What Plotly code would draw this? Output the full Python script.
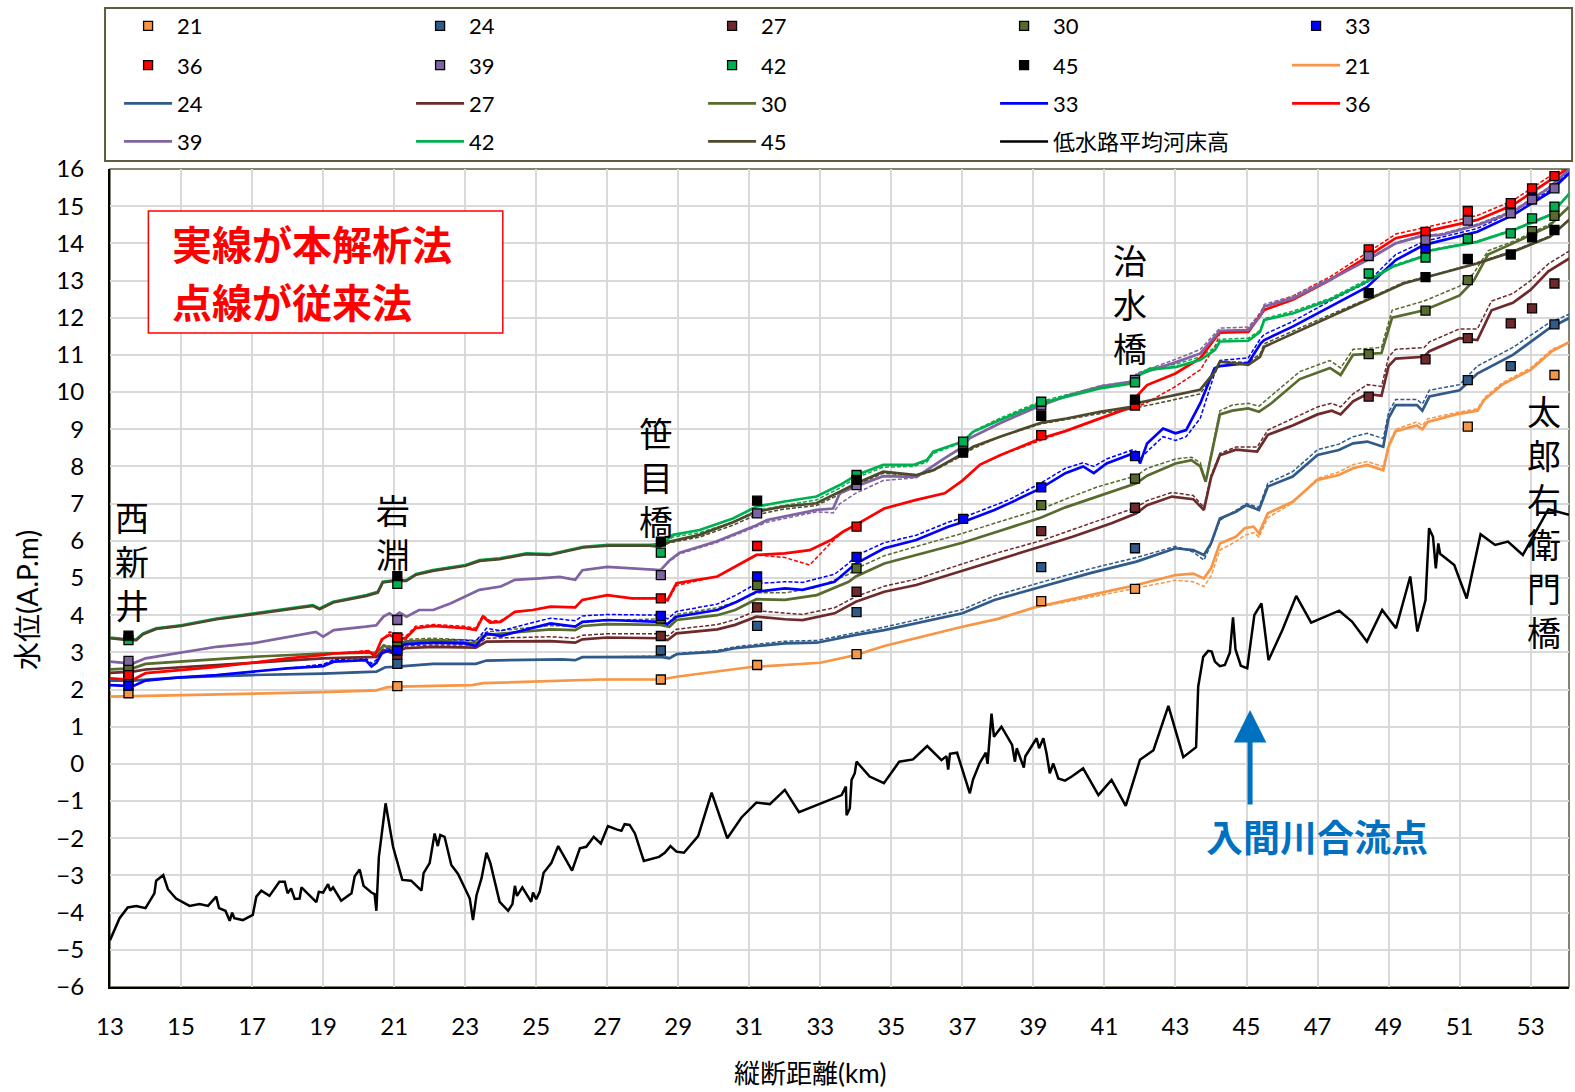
import plotly.graph_objects as go

# ---------------- water-level profiles (distance km / level A.P.m) ----------------
KM_21 = [13, 15, 17, 19, 20.5, 20.8, 21.1, 23.2, 23.5, 25, 26.8, 28.5, 29, 31, 33, 34, 34.8, 37, 38, 39,
         39.5, 40.6, 41.9, 43, 43.5, 43.8, 44, 44.25, 44.7, 44.95, 45.2, 45.35, 45.6, 46.3, 47, 47.6, 48,
         48.4, 48.85, 49, 49.2, 49.8, 49.95, 50.1, 50.9, 51.5, 51.7, 52.2, 53, 53.6, 54.1]
SOLID_21 = [1.81, 1.85, 1.88, 1.93, 1.98, 2.06, 2.08, 2.12, 2.17, 2.21, 2.27, 2.27, 2.35, 2.6, 2.72, 2.93,
            3.17, 3.69, 3.9, 4.2, 4.3, 4.54, 4.81, 5.08, 5.12, 4.99, 5.26, 5.93, 6.11, 6.34, 6.38, 6.2, 6.74,
            7.05, 7.64, 7.77, 7.95, 8.04, 7.9, 8.53, 8.95, 9.1, 9.0, 9.2, 9.4, 9.5, 9.8, 10.2, 10.6, 11.1, 11.35]
DASHED_21 = [1.81, 1.85, 1.88, 1.93, 1.98, 2.06, 2.08, 2.12, 2.17, 2.21, 2.27, 2.27, 2.35, 2.6, 2.72, 2.93,
             3.17, 3.69, 3.9, 4.2, 4.28, 4.48, 4.74, 4.94, 4.9, 4.77, 5.05, 5.75, 5.98, 6.15, 6.22, 6.1, 6.62,
             7.02, 7.68, 7.85, 8.05, 8.13, 8.0, 8.6, 9.0, 9.2, 9.1, 9.28, 9.45, 9.55, 9.85, 10.25, 10.65, 11.15, 11.35]

KM_24 = [13, 13.64, 15, 17, 19, 20.5, 20.75, 21, 22.1, 23.3, 23.6, 25.7, 26.1, 26.3, 28.5, 28.75, 28.95,
         30.1, 30.6, 31.2, 32, 32.9, 34, 34.8, 37, 37.9, 39.2, 40.6, 41.9, 43, 43.5, 43.8, 44, 44.25, 44.7,
         45, 45.35, 45.6, 46.3, 47, 47.6, 48, 48.4, 48.85, 49, 49.2, 49.8, 49.95, 50.15, 51, 51.5, 52.5, 53.5, 54.1]
SOLID_24 = [2.24, 2.24, 2.33, 2.39, 2.43, 2.48, 2.6, 2.61, 2.69, 2.69, 2.78, 2.81, 2.79, 2.87, 2.88, 2.84,
            2.95, 3.02, 3.11, 3.17, 3.24, 3.26, 3.47, 3.6, 4.05, 4.41, 4.75, 5.13, 5.44, 5.8, 5.75, 5.62, 5.93,
            6.6, 6.78, 6.96, 6.83, 7.46, 7.73, 8.31, 8.44, 8.62, 8.67, 8.53, 9.3, 9.65, 9.65, 9.5, 9.88, 10.05,
            10.5, 11.0, 11.7, 12.0]
DASHED_24 = [2.24, 2.24, 2.33, 2.39, 2.43, 2.48, 2.6, 2.61, 2.69, 2.69, 2.78, 2.81, 2.79, 2.87, 2.9, 2.86,
             2.97, 3.05, 3.15, 3.22, 3.3, 3.32, 3.52, 3.68, 4.15, 4.52, 4.88, 5.25, 5.55, 5.85, 5.7, 5.48, 5.9,
             6.55, 6.82, 7.0, 6.9, 7.55, 7.86, 8.45, 8.6, 8.8, 8.89, 8.75, 9.45, 9.8, 9.8, 9.68, 10.05, 10.2,
             10.7, 11.2, 11.85, 12.1]

KM_27 = [13, 13.64, 14, 15, 17, 19, 20.5, 20.7, 21, 21.3, 22.1, 23.3, 23.6, 25.4, 26.1, 26.3, 27, 28.5,
         28.7, 28.95, 30.1, 30.6, 31.2, 32, 32.5, 33.4, 34, 34.8, 35.7, 37, 38, 39.2, 40.1, 41.2, 41.9, 42.2,
         42.9, 43.5, 43.8, 44.0, 44.25, 44.7, 45.3, 45.6, 46.3, 47, 47.4, 47.65, 48, 48.4, 48.8, 49, 49.2,
         50, 50.15, 51, 51.5, 51.9, 52.5, 53, 53.5, 54.1]
SOLID_27 = [2.45, 2.48, 2.54, 2.6, 2.72, 2.84, 2.88, 3.06, 2.97, 3.11, 3.15, 3.13, 3.29, 3.3, 3.26, 3.35,
            3.4, 3.38, 3.33, 3.51, 3.62, 3.74, 3.96, 3.89, 3.87, 4.05, 4.36, 4.63, 4.81, 5.2, 5.5, 5.84, 6.11,
            6.47, 6.74, 6.96, 7.19, 7.12, 6.83, 7.7, 8.3, 8.45, 8.4, 8.85, 9.1, 9.4, 9.5, 9.4, 9.75, 9.95,
            9.9, 10.7, 10.9, 10.95, 11.1, 11.45, 11.4, 12.2, 12.4, 12.75, 13.25, 13.6]
DASHED_27 = [2.45, 2.48, 2.54, 2.6, 2.72, 2.84, 2.88, 3.08, 3.02, 3.17, 3.2, 3.2, 3.38, 3.42, 3.38, 3.46,
             3.5, 3.5, 3.44, 3.62, 3.75, 3.88, 4.12, 4.05, 4.02, 4.2, 4.5, 4.78, 4.97, 5.38, 5.68, 6.0, 6.3,
             6.65, 6.9, 7.08, 7.3, 7.22, 6.9, 7.75, 8.35, 8.52, 8.52, 8.98, 9.3, 9.6, 9.7, 9.6, 9.95, 10.2,
             10.15, 10.95, 11.15, 11.2, 11.35, 11.7, 11.7, 12.45, 12.65, 13.0, 13.45, 13.8]

KM_30 = [13, 13.64, 14, 15, 17, 19, 20.5, 20.7, 21, 21.3, 22.1, 23.3, 23.6, 25.4, 26.1, 26.3, 27, 28.5,
         28.75, 28.95, 30.1, 30.6, 31.2, 32, 32.9, 33.8, 34, 34.8, 35.7, 37, 38, 39.2, 39.9, 40.8, 41.9,
         42.2, 43, 43.45, 43.7, 43.85, 44.05, 44.25, 44.6, 45.05, 45.35, 45.7, 46.5, 47.35, 47.65, 48, 48.8,
         49.1, 50, 51, 51.4, 51.8, 52.5, 53.5, 54.1]
SOLID_30 = [2.54, 2.57, 2.69, 2.75, 2.88, 2.97, 2.99, 3.17, 3.11, 3.29, 3.33, 3.24, 3.47, 3.62, 3.6, 3.71,
            3.76, 3.74, 3.69, 3.87, 4.0, 4.14, 4.43, 4.41, 4.54, 4.9, 5.04, 5.39, 5.62, 5.95, 6.25, 6.62, 6.9,
            7.2, 7.55, 7.75, 8.08, 8.17, 8.0, 7.59, 8.5, 9.4, 9.5, 9.56, 9.47, 9.7, 10.35, 10.65, 10.46, 11.0,
            11.05, 12.0, 12.2, 12.6, 13.0, 13.7, 14.0, 14.45, 15.0]
DASHED_30 = [2.54, 2.57, 2.69, 2.75, 2.88, 2.97, 3.0, 3.2, 3.15, 3.35, 3.38, 3.32, 3.55, 3.72, 3.7, 3.8,
             3.86, 3.9, 3.82, 4.02, 4.2, 4.35, 4.6, 4.6, 4.75, 5.1, 5.25, 5.6, 5.85, 6.2, 6.5, 6.85, 7.12,
             7.45, 7.75, 7.95, 8.2, 8.25, 8.1, 7.6, 8.55, 9.5, 9.65, 9.7, 9.62, 9.9, 10.55, 10.85, 10.65,
             11.15, 11.2, 12.2, 12.45, 12.85, 13.2, 13.8, 14.05, 14.5, 15.0]

KM_33 = [13, 13.64, 14, 15, 16, 17, 18, 19, 19.3, 20.2, 20.36, 20.5, 20.65, 20.87, 21, 21.3, 22.1, 23,
         23.3, 23.6, 24, 25.4, 26.1, 26.3, 27, 28.5, 28.7, 28.95, 30.1, 30.65, 31.2, 32, 32.5, 33.4, 33.8,
         34, 34.8, 35.7, 36.6, 37, 37.9, 38.3, 39.2, 39.9, 40.4, 40.7, 41.06, 41.8, 41.95, 42.0, 42.2,
         42.65, 43.0, 43.3, 43.7, 44.1, 44.25, 45.05, 45.4, 45.5, 46.3, 47.35, 48.4, 49.2, 50, 51.5, 52.5,
         53.5, 54.1]
SOLID_33 = [2.12, 2.09, 2.24, 2.33, 2.39, 2.48, 2.57, 2.63, 2.75, 2.79, 2.62, 2.72, 2.97, 3.06, 2.97, 3.22,
            3.26, 3.24, 3.17, 3.51, 3.44, 3.78, 3.69, 3.82, 3.87, 3.82, 3.76, 3.96, 4.14, 4.36, 4.63, 4.72,
            4.68, 4.9, 5.21, 5.39, 5.8, 6.02, 6.38, 6.5, 6.83, 7.0, 7.41, 7.82, 8.0, 7.82, 8.08, 8.35, 8.26,
            8.08, 8.62, 9.02, 8.89, 8.98, 9.7, 10.64, 10.7, 10.78, 11.31, 11.4, 11.76, 12.3, 12.83, 13.55,
            13.96, 14.31, 14.76, 15.35, 15.9]
DASHED_33 = [2.12, 2.09, 2.24, 2.33, 2.39, 2.48, 2.57, 2.68, 2.8, 2.85, 2.7, 2.8, 3.05, 3.12, 3.05, 3.3,
             3.33, 3.33, 3.3, 3.65, 3.58, 3.92, 3.85, 3.98, 4.02, 4.0, 3.9, 4.1, 4.3, 4.55, 4.85, 4.9, 4.88,
             5.1, 5.4, 5.6, 5.95, 6.15, 6.5, 6.62, 6.95, 7.1, 7.55, 7.95, 8.1, 8.0, 8.2, 8.45, 8.38, 8.2, 8.4,
             8.8, 8.7, 8.8, 9.3, 10.5, 10.85, 10.92, 11.45, 11.55, 11.9, 12.45, 12.95, 13.7, 14.05, 14.4,
             14.85, 15.4, 15.95]

KM_36 = [13, 13.64, 14, 15, 16, 17, 18, 19, 19.3, 20.3, 20.45, 20.65, 20.87, 21.1, 21.35, 21.6, 22.1, 23,
         23.3, 23.5, 23.7, 24, 24.4, 24.9, 25.4, 26.1, 26.3, 27, 27.7, 28.5, 28.7, 28.95, 30.1, 31.2, 32,
         32.7, 33.3, 33.65, 34, 34.8, 35.7, 36.5, 37, 37.5, 38.06, 39.2, 39.9, 40.9, 41.8, 41.9, 42.2, 43.0,
         43.7, 44.15, 44.25, 45.05, 45.3, 45.5, 46.3, 47.35, 48.4, 49.2, 50, 51.5, 52.5, 53.5, 54.1]
SOLID_36 = [2.3, 2.26, 2.44, 2.52, 2.61, 2.72, 2.84, 2.93, 2.97, 3.02, 2.9, 3.35, 3.47, 3.35, 3.4, 3.65,
            3.71, 3.65, 3.6, 3.96, 3.8, 3.82, 4.09, 4.14, 4.23, 4.21, 4.41, 4.54, 4.45, 4.45, 4.41, 4.86,
            5.04, 5.62, 5.66, 5.75, 6.02, 6.25, 6.43, 6.87, 7.1, 7.28, 7.62, 8.05, 8.3, 8.75, 8.95, 9.3, 9.61,
            9.88, 10.19, 10.5, 10.91, 11.49, 11.6, 11.62, 11.94, 12.21, 12.48, 13.01, 13.64, 14.14, 14.31,
            14.63, 15.03, 15.66, 16.05]
DASHED_36 = [2.3, 2.26, 2.44, 2.52, 2.61, 2.72, 2.84, 2.93, 2.97, 3.05, 2.95, 3.3, 3.55, 3.5, 3.45, 3.7,
             3.75, 3.7, 3.65, 4.0, 3.85, 3.85, 4.09, 4.14, 4.23, 4.21, 4.41, 4.54, 4.45, 4.45, 4.38, 4.8,
             5.04, 5.62, 5.55, 5.35, 5.95, 6.25, 6.43, 6.87, 7.1, 7.28, 7.62, 8.05, 8.3, 8.7, 8.95, 9.3, 9.6,
             9.6, 9.72, 10.15, 10.6, 11.3, 11.6, 11.7, 12.02, 12.3, 12.58, 13.1, 13.75, 14.25, 14.42, 14.75,
             15.15, 15.78, 16.1]

KM_39 = [13, 13.64, 14, 15, 16, 17, 18, 18.8, 19, 19.3, 20.2, 20.5, 20.7, 20.87, 21, 21.15, 21.35, 21.7,
         22.1, 22.6, 23, 23.4, 24, 24.4, 25.1, 25.66, 26.1, 26.3, 27, 27.6, 28.5, 28.76, 29.04, 30.07, 31.2,
         31.5, 32.9, 33.36, 33.55, 34.0, 34.77, 35.71, 36.46, 37.02, 37.2, 38.06, 39.1, 39.9, 40.9, 41.81,
         41.9, 43.0, 43.7, 44.25, 45.05, 45.38, 45.5, 46.3, 47.35, 48.4, 49.2, 49.95, 50.45, 51.5, 52.5,
         53.5, 54.1]
SOLID_39 = [2.75, 2.7, 2.84, 2.99, 3.15, 3.24, 3.42, 3.55, 3.42, 3.6, 3.69, 3.73, 3.96, 4.05, 3.96, 4.07,
            3.96, 4.14, 4.14, 4.32, 4.5, 4.68, 4.77, 4.95, 4.99, 5.03, 4.95, 5.21, 5.3, 5.26, 5.21, 5.48,
            5.68, 5.98, 6.42, 6.56, 6.83, 6.87, 7.28, 7.46, 7.74, 7.72, 8.2, 8.53, 8.76, 9.16, 9.6, 9.88,
            10.15, 10.28, 10.46, 10.8, 11.04, 11.65, 11.67, 12.03, 12.3, 12.52, 13.02, 13.55, 14.0, 14.2,
            14.22, 14.49, 14.85, 15.48, 16.0]
DASHED_39 = [2.75, 2.7, 2.84, 2.99, 3.15, 3.24, 3.42, 3.55, 3.42, 3.6, 3.69, 3.73, 3.96, 4.05, 3.96, 4.07,
             3.96, 4.14, 4.14, 4.32, 4.5, 4.68, 4.77, 4.95, 4.99, 5.03, 4.95, 5.21, 5.3, 5.26, 5.21, 5.45,
             5.65, 5.95, 6.38, 6.5, 6.78, 6.75, 7.0, 7.28, 7.62, 7.7, 8.2, 8.53, 8.76, 9.18, 9.62, 9.9,
             10.18, 10.3, 10.5, 10.88, 11.15, 11.72, 11.75, 12.1, 12.36, 12.58, 13.06, 13.58, 14.02, 14.22,
             14.25, 14.52, 14.88, 15.5, 16.0]

KM_42 = [13, 13.5, 13.74, 13.93, 14.3, 15, 16, 17, 17.96, 18.71, 18.9, 19.28, 20.22, 20.54, 20.68, 21.0,
         21.34, 21.62, 22.09, 23.01, 23.41, 23.97, 24.72, 25.38, 26.32, 27.02, 28.2, 28.48, 28.67, 28.85,
         29.6, 30.54, 31.2, 31.95, 32.89, 33.55, 34.02, 34.77, 35.62, 36.0, 36.18, 37.02, 37.3, 38.06,
         39.2, 39.93, 40.87, 41.81, 41.9, 42.28, 43.03, 43.69, 44.11, 44.25, 45.05, 45.38, 45.5, 46.32,
         47.35, 48.39, 49.11, 49.94, 50.04, 51.49, 52.52, 53.55, 54.1]
SOLID_42 = [3.4, 3.35, 3.35, 3.51, 3.65, 3.73, 3.91, 4.05, 4.18, 4.27, 4.18, 4.36, 4.54, 4.63, 4.9, 4.94,
            4.94, 5.11, 5.21, 5.35, 5.48, 5.53, 5.66, 5.64, 5.84, 5.89, 5.89, 5.91, 6.02, 6.16, 6.29, 6.6,
            6.92, 7.05, 7.19, 7.5, 7.77, 8.04, 8.04, 8.17, 8.4, 8.67, 8.93, 9.25, 9.7, 9.88, 10.1, 10.24,
            10.42, 10.6, 10.68, 10.86, 11.13, 11.36, 11.38, 11.62, 11.94, 12.12, 12.48, 12.97, 13.37, 13.64,
            13.78, 14.04, 14.36, 14.76, 15.35]
DASHED_42 = [3.4, 3.35, 3.35, 3.51, 3.65, 3.73, 3.91, 4.05, 4.18, 4.27, 4.18, 4.36, 4.54, 4.63, 4.9, 4.94,
             4.94, 5.11, 5.21, 5.35, 5.48, 5.53, 5.66, 5.64, 5.84, 5.89, 5.89, 5.91, 6.0, 6.1, 6.22, 6.5,
             6.82, 6.95, 7.1, 7.42, 7.7, 7.98, 8.0, 8.12, 8.35, 8.65, 8.95, 9.3, 9.75, 9.93, 10.15, 10.3,
             10.45, 10.65, 10.75, 10.95, 11.2, 11.42, 11.45, 11.66, 11.98, 12.18, 12.52, 13.02, 13.4, 13.66,
             13.8, 14.06, 14.38, 14.78, 15.35]

KM_45 = [13, 13.5, 13.74, 13.93, 14.3, 15, 16, 17, 17.96, 18.71, 18.9, 19.28, 20.22, 20.54, 20.68, 21.0,
         21.34, 21.62, 22.09, 23.01, 23.41, 23.97, 24.72, 25.38, 26.32, 27.02, 28.2, 28.48, 28.76, 29.6,
         30.54, 31.2, 31.95, 32.89, 33.55, 34.02, 34.77, 35.71, 36.18, 37.02, 37.3, 38.06, 39.23, 39.93,
         40.87, 41.81, 41.9, 42.75, 43.69, 44.11, 44.25, 45.05, 45.38, 45.5, 46.32, 47.35, 48.39, 49.42,
         50.45, 51.49, 52.52, 53.55, 54.1]
SOLID_45 = [3.38, 3.33, 3.33, 3.49, 3.63, 3.71, 3.89, 4.03, 4.16, 4.25, 4.16, 4.34, 4.52, 4.61, 4.88, 4.92,
            4.92, 5.09, 5.19, 5.33, 5.46, 5.51, 5.64, 5.62, 5.82, 5.87, 5.87, 5.84, 5.98, 6.16, 6.5, 6.78,
            6.92, 7.01, 7.32, 7.55, 7.86, 7.77, 7.9, 8.35, 8.53, 8.8, 9.18, 9.29, 9.47, 9.61, 9.7, 9.88,
            10.06, 10.55, 10.82, 10.73, 10.95, 11.22, 11.58, 12.03, 12.48, 12.92, 13.19, 13.46, 13.78,
            14.18, 14.65]
DASHED_45 = [3.38, 3.33, 3.33, 3.49, 3.63, 3.71, 3.89, 4.03, 4.16, 4.25, 4.16, 4.34, 4.52, 4.61, 4.88, 4.92,
             4.92, 5.09, 5.19, 5.33, 5.46, 5.51, 5.64, 5.62, 5.82, 5.87, 5.87, 5.84, 5.95, 6.1, 6.42, 6.7,
             6.85, 6.95, 7.25, 7.5, 7.82, 7.75, 7.88, 8.3, 8.48, 8.8, 9.15, 9.27, 9.42, 9.55, 9.58, 9.75,
             9.95, 10.5, 10.82, 10.8, 11.02, 11.3, 11.65, 12.08, 12.5, 12.95, 13.2, 13.48, 13.8, 14.2, 14.65]

# ---------------- observed levels at gauging stations ----------------
OBS_KM_21 = [13.52, 21.09, 28.51, 31.22, 34.02, 39.22, 41.86, 51.23, 53.67]
OBS_21 = [1.9, 2.09, 2.27, 2.66, 2.95, 4.38, 4.71, 9.07, 10.46]
OBS_KM_24 = [13.52, 21.09, 28.51, 31.22, 34.02, 39.22, 41.86, 51.23, 52.44, 53.67]
OBS_24 = [2.26, 2.69, 3.05, 3.71, 4.08, 5.29, 5.8, 10.32, 10.7, 11.82]
OBS_KM_27 = [13.52, 21.09, 28.51, 31.22, 34.02, 39.22, 41.86, 48.44, 50.04, 51.23, 52.44, 53.04, 53.67]
OBS_27 = [2.48, 2.93, 3.44, 4.21, 4.63, 6.26, 6.89, 9.88, 10.88, 11.45, 11.85, 12.25, 12.92]
OBS_KM_30 = [13.52, 21.09, 28.51, 31.22, 34.02, 39.22, 41.86, 48.44, 50.04, 51.23, 53.04, 53.67]
OBS_30 = [2.57, 3.23, 3.91, 4.81, 5.26, 6.96, 7.67, 11.02, 12.19, 13.01, 14.33, 14.74]
OBS_KM_33 = [13.52, 21.09, 28.51, 31.22, 34.02, 37.02, 39.22, 41.86, 50.04, 52.44, 53.04]
OBS_33 = [2.1, 3.05, 3.98, 5.04, 5.57, 6.59, 7.44, 8.28, 13.87, 14.95, 15.3]
OBS_KM_36 = [13.52, 21.09, 28.51, 31.22, 34.02, 39.22, 41.86, 48.44, 50.04, 51.23, 52.44, 53.04, 53.67]
OBS_36 = [2.39, 3.4, 4.45, 5.86, 6.38, 8.84, 9.64, 13.84, 14.31, 14.87, 15.08, 15.48, 15.81]
OBS_KM_39 = [13.52, 21.09, 28.51, 31.22, 34.02, 37.02, 39.22, 41.86, 48.44, 50.04, 51.23, 52.44, 53.04, 53.67]
OBS_39 = [2.77, 3.87, 5.08, 6.74, 7.5, 8.53, 9.64, 10.33, 13.66, 14.09, 14.61, 14.81, 15.18, 15.48]
OBS_KM_42 = [13.52, 21.09, 28.51, 34.02, 37.02, 39.22, 41.86, 48.44, 50.04, 51.23, 52.44, 53.04, 53.67]
OBS_42 = [3.33, 4.84, 5.68, 7.77, 8.67, 9.74, 10.26, 13.19, 13.62, 14.13, 14.27, 14.67, 14.99]
OBS_KM_45 = [13.52, 21.09, 28.51, 31.22, 34.02, 37.02, 39.22, 41.86, 48.44, 50.04, 51.23, 52.44, 53.04, 53.67]
OBS_45 = [3.45, 5.05, 5.98, 7.08, 7.64, 8.37, 9.36, 9.8, 12.66, 13.09, 13.58, 13.7, 14.16, 14.36]

# ---------------- mean low-water channel bed ----------------
BED_KM = [13.0, 13.27, 13.5, 13.74, 14.0, 14.25, 14.3, 14.5, 14.63, 14.86, 15.24, 15.52, 15.76, 15.99,
          16.07, 16.25, 16.37, 16.44, 16.5, 16.74, 17.02, 17.12, 17.26, 17.49, 17.77, 17.92, 18.0, 18.1,
          18.2, 18.34, 18.39, 18.81, 18.88, 19.0, 19.14, 19.2, 19.28, 19.51, 19.8, 19.89, 20.03, 20.14,
          20.36, 20.45, 20.5, 20.57, 20.76, 20.97, 21.23, 21.48, 21.77, 21.83, 22.0, 22.14, 22.23, 22.3,
          22.42, 22.61, 22.8, 23.13, 23.22, 23.32, 23.46, 23.6, 23.71, 23.83, 23.97, 24.21, 24.33, 24.4,
          24.46, 24.61, 24.86, 24.91, 25.0, 25.1, 25.21, 25.43, 25.62, 26.01, 26.23, 26.41, 26.62, 26.82,
          27.02, 27.26, 27.4, 27.49, 27.63, 27.78, 28.03, 28.46, 28.62, 28.78, 28.95, 29.16, 29.56, 29.94,
          30.38, 30.78, 31.2, 31.58, 32.0, 32.4, 33.03, 33.6, 33.72, 33.74, 33.83, 33.88, 33.97, 34.02,
          34.39, 34.79, 35.22, 35.61, 36.01, 36.41, 36.55, 36.6, 36.65, 36.85, 37.21, 37.3, 37.49, 37.66,
          37.71, 37.77, 37.82, 37.89, 38.1, 38.4, 38.48, 38.53, 38.73, 38.77, 39.09, 39.16, 39.28, 39.37,
          39.46, 39.56, 39.7, 39.89, 40.08, 40.4, 40.83, 41.2, 41.6, 42.0, 42.38, 42.8, 43.22, 43.58,
          43.64, 43.78, 43.92, 44.02, 44.11, 44.25, 44.39, 44.53, 44.62, 44.69, 44.84, 45.02, 45.22, 45.42,
          45.62, 46.01, 46.4, 46.82, 47.61, 47.97, 48.39, 48.82, 49.21, 49.61, 49.81, 50.04, 50.14, 50.25,
          50.33, 50.4, 50.45, 50.85, 51.2, 51.59, 52.0, 52.36, 52.78, 53.5, 54.08]
BED_LEVEL = [-4.74, -4.15, -3.86, -3.82, -3.88, -3.48, -3.14, -2.99, -3.37, -3.62, -3.82, -3.77, -3.82,
             -3.57, -3.88, -3.95, -4.22, -4.0, -4.15, -4.2, -4.06, -3.57, -3.41, -3.55, -3.17, -3.17, -3.48,
             -3.35, -3.63, -3.62, -3.32, -3.72, -3.44, -3.46, -3.23, -3.41, -3.32, -3.68, -3.48, -3.02,
             -2.84, -3.28, -3.46, -3.5, -3.95, -2.5, -1.06, -2.23, -3.12, -3.14, -3.41, -2.94, -2.67, -1.87,
             -2.21, -1.91, -1.96, -2.72, -2.96, -3.62, -4.2, -3.53, -3.08, -2.39, -2.67, -3.17, -3.71, -3.95,
             -3.77, -3.28, -3.55, -3.32, -3.71, -3.46, -3.64, -3.44, -2.93, -2.66, -2.21, -2.87, -2.27,
             -2.23, -1.96, -2.14, -1.67, -1.76, -1.8, -1.62, -1.64, -1.87, -2.61, -2.5, -2.39, -2.21, -2.36,
             -2.39, -1.94, -0.77, -2.0, -1.44, -1.04, -1.08, -0.7, -1.3, -1.06, -0.84, -0.61, -1.38, -1.2,
             -0.43, -0.25, 0.06, -0.34, -0.52, 0.06, 0.12, 0.48, 0.1, 0.21, -0.15, 0.27, 0.3, -0.79, -0.42,
             0.03, 0.3, 0.0, 0.82, 1.35, 0.73, 1.0, 0.51, 0.06, 0.42, -0.1, 0.2, 0.69, 0.42, 0.69, 0.28,
             -0.25, 0.01, -0.39, -0.45, -0.34, -0.12, -0.84, -0.43, -1.13, 0.11, 0.37, 1.56, 0.18, 0.45,
             2.08, 2.88, 3.04, 3.02, 2.75, 2.63, 2.66, 2.99, 3.94, 3.08, 2.64, 2.57, 4.0, 4.32, 2.79, 3.6,
             4.52, 3.8, 4.12, 3.83, 3.29, 4.14, 3.65, 5.04, 3.56, 4.41, 6.34, 6.11, 5.26, 5.93, 5.65, 5.35,
             4.45, 6.18, 5.89, 5.98, 5.62, 6.85, 6.7]

X_TICKS = list(range(13, 54, 2))
Y_TICKS = list(range(-6, 17))

# name, line colour, marker fill, profile, observations, legend row for the line entry
SERIES = [
    ("21", "#F79646", "#F79646", KM_21, SOLID_21, DASHED_21, OBS_KM_21, OBS_21, "legend2"),
    ("24", "#2F5A8A", "#2F5A8A", KM_24, SOLID_24, DASHED_24, OBS_KM_24, OBS_24, "legend3"),
    ("27", "#6E2A2A", "#6E2A2A", KM_27, SOLID_27, DASHED_27, OBS_KM_27, OBS_27, "legend3"),
    ("30", "#566B2C", "#566B2C", KM_30, SOLID_30, DASHED_30, OBS_KM_30, OBS_30, "legend3"),
    ("33", "#0000FF", "#0000FF", KM_33, SOLID_33, DASHED_33, OBS_KM_33, OBS_33, "legend3"),
    ("36", "#FF0000", "#FF0000", KM_36, SOLID_36, DASHED_36, OBS_KM_36, OBS_36, "legend3"),
    ("39", "#8064A2", "#8064A2", KM_39, SOLID_39, DASHED_39, OBS_KM_39, OBS_39, "legend4"),
    ("42", "#00B050", "#00B050", KM_42, SOLID_42, DASHED_42, OBS_KM_42, OBS_42, "legend4"),
    ("45", "#4D4A2C", "#000000", KM_45, SOLID_45, DASHED_45, OBS_KM_45, OBS_45, "legend4"),
]
MARKER_ROW = ["legend", "legend", "legend", "legend", "legend", "legend2", "legend2", "legend2", "legend2"]

fig = go.Figure()

# conventional method (dotted) underneath
for name, col, mcol, km, solid, dashed, okm, oval, row in SERIES:
    fig.add_trace(go.Scatter(x=km, y=dashed, mode="lines", showlegend=False, hoverinfo="skip",
                             line=dict(color=col, width=1.5, dash="4px,2px")))

# present analysis (solid)
for i, (name, col, mcol, km, solid, dashed, okm, oval, row) in enumerate(SERIES):
    fig.add_trace(go.Scatter(x=km, y=solid, mode="lines", name=name, legend=row, legendrank=100 + i,
                             line=dict(color=col, width=2.7)))

fig.add_trace(go.Scatter(x=BED_KM, y=BED_LEVEL, mode="lines", name="低水路平均河床高", legend="legend4",
                         legendrank=200, line=dict(color="black", width=2.5)))

# observed marks on top
for i, (name, col, mcol, km, solid, dashed, okm, oval, row) in enumerate(SERIES):
    fig.add_trace(go.Scatter(x=okm, y=oval, mode="markers", name=name, legend=MARKER_ROW[i], legendrank=i,
                             marker=dict(symbol="square", size=9, color=mcol,
                                         line=dict(color="black", width=1.3))))

FONT = "Lato, 'Noto Sans CJK JP', sans-serif"
JP = "'Noto Sans CJK JP', sans-serif"


def row_legend(y):
    # one legend per row, placed against the whole figure so it does not push the margins
    return dict(orientation="h", xref="container", yref="container", x=0.0756, xanchor="left",
                y=y, yanchor="middle", entrywidth=229, entrywidthmode="pixels", itemwidth=48,
                bgcolor="rgba(0,0,0,0)", borderwidth=0, traceorder="normal", tracegroupgap=0,
                font=dict(family=FONT, size=22, color="black"))


annotations = [
    dict(x=13.63, y=5.46, text="西<br>新<br>井"),
    dict(x=20.96, y=6.26, text="岩<br>淵"),
    dict(x=28.37, y=7.74, text="笹<br>目<br>橋"),
    dict(x=41.72, y=12.37, text="治<br>水<br>橋"),
    dict(x=53.38, y=6.53, text="太<br>郎<br>右<br>衛<br>門<br>橋"),
]
for a in annotations:
    a.update(xref="x", yref="y", showarrow=False, xanchor="center", yanchor="middle",
             font=dict(family=JP, size=34, color="black"))

annotations += [
    # note on line styles, two stacked lines
    dict(x=14.68, y=14.02, xref="x", yref="y", text="<b>実線が本解析法</b>",
         showarrow=False, xanchor="left", yanchor="middle",
         font=dict(family=JP, size=40, color="#FF0000")),
    dict(x=14.68, y=12.44, xref="x", yref="y", text="<b>点線が従来法</b>",
         showarrow=False, xanchor="left", yanchor="middle",
         font=dict(family=JP, size=40, color="#FF0000")),
    dict(x=46.99, y=-1.94, xref="x", yref="y", text="<b>入間川合流点</b>", showarrow=False,
         xanchor="center", yanchor="middle", font=dict(family=JP, size=37, color="#0070C0")),
    dict(x=45.1, y=1.45, ax=45.1, ay=-1.13, xref="x", yref="y", axref="x", ayref="y", text="",
         showarrow=True, arrowhead=2, arrowsize=1.3, arrowwidth=5, arrowcolor="#0070C0"),
    # axis titles
    dict(x=-0.057, y=0.473, xref="paper", yref="paper", text="水位(A.P.m)", textangle=-90,
         showarrow=False, xanchor="center", yanchor="middle", font=dict(family=FONT, size=28)),
    dict(x=0.48, y=-0.1051, xref="paper", yref="paper", text="縦断距離(km)",
         showarrow=False, xanchor="center", yanchor="middle", font=dict(family=FONT, size=26)),
]

shapes = [
    # legend frame
    dict(type="rect", xref="paper", yref="paper", x0=-0.0034, x1=1.0021, y0=1.0098, y1=1.1968,
         line=dict(color="#5E5B40", width=2), fillcolor="rgba(0,0,0,0)", layer="below"),
    # plot-area frame
    dict(type="rect", xref="paper", yref="paper", x0=0, x1=1, y0=0, y1=1,
         line=dict(color="#5E5B40", width=1.5), fillcolor="rgba(0,0,0,0)", layer="below"),
    # method note box
    dict(type="rect", xref="x", yref="y", x0=14.08, x1=24.06, y0=11.59, y1=14.87,
         line=dict(color="#FF0000", width=1.5), fillcolor="white", layer="above"),
]

fig.update_layout(
    width=1575, height=1092,
    margin=dict(l=110, r=6, t=169, b=105, autoexpand=False),
    paper_bgcolor="white", plot_bgcolor="white",
    font=dict(family=FONT, size=22, color="black"),
    legend=row_legend(0.9761),
    legend2=row_legend(0.9402),
    legend3=row_legend(0.9052),
    legend4=row_legend(0.8703),
    annotations=annotations,
    shapes=shapes,
    hovermode=False,
)
fig.update_xaxes(range=[13, 54.08], tickvals=X_TICKS, showgrid=True, gridcolor="#D9D9D9", gridwidth=1.5,
                 zeroline=False, showline=True, linecolor="black", linewidth=2, ticks="",
                 ticklabelstandoff=17, tickfont=dict(size=24))
fig.update_yaxes(range=[-6, 16], tickvals=Y_TICKS, showgrid=True, gridcolor="#D9D9D9", gridwidth=1.5,
                 zeroline=False, showline=True, linecolor="black", linewidth=2, ticks="",
                 ticklabelstandoff=19, tickfont=dict(size=24))

fig.write_html("out.html")
